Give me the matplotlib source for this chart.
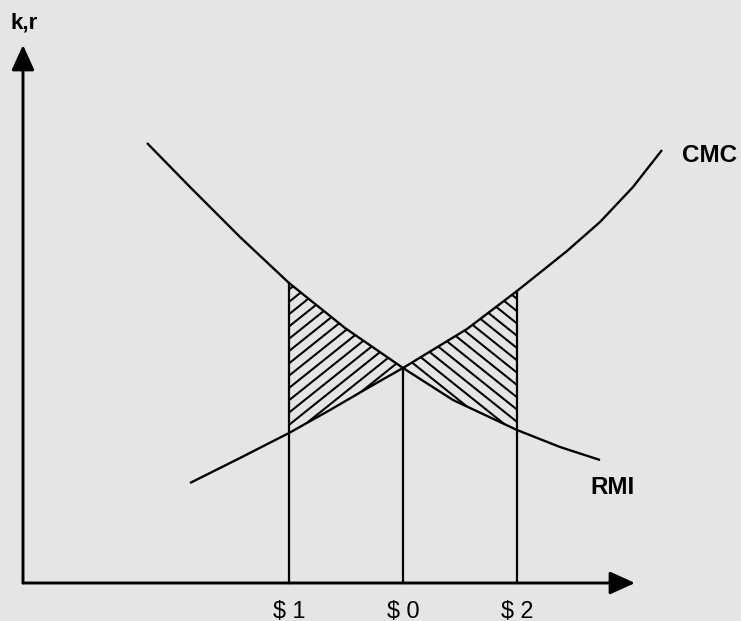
import numpy as np
import matplotlib
matplotlib.use("Agg")
import matplotlib.pyplot as plt
from matplotlib.collections import LineCollection

plt.rcParams['font.family'] = ['Liberation Sans', 'DejaVu Sans']

# --- data (investment on x, k,r on y; arbitrary units) ---
rmi_x = [12.4, 16.7, 21.7, 26.6, 32.2, 38.0, 43.0, 49.4, 53.7, 57.7]
rmi_y = [44.0, 39.6, 34.6, 30.0, 25.5, 21.5, 18.3, 15.3, 13.6, 12.3]

cmc_x = [16.7, 21.7, 26.6, 30.7, 35.0, 38.0, 44.4, 49.4, 54.4, 57.7, 61.0, 63.9]
cmc_y = [10.0, 12.5, 15.0, 17.3, 19.8, 21.5, 25.4, 29.2, 33.2, 36.1, 39.6, 43.3]

s_labels = ['$ 1', '$ 0', '$ 2']
s_x = [26.6, 38.0, 49.4]

curve_labels = ['CMC', 'RMI']
y_label = 'k,r'
x_axis_end = 61.2
y_axis_end = 53.8

rmi_x = np.array(rmi_x); rmi_y = np.array(rmi_y)
cmc_x = np.array(cmc_x); cmc_y = np.array(cmc_y)

bg = '#e5e5e5'
fig = plt.figure(figsize=(741 / 70, 621 / 70), dpi=70, facecolor=bg)
ax = fig.add_axes([0, 0, 1, 1])
ax.set_facecolor(bg)
ax.set_xlim(-2.3, 71.8)
ax.set_ylim(-3.8, 58.3)
ax.axis('off')

# hatch style (texture only, not data)
HATCH_STEP = 1.23   # vertical spacing of strokes
HATCH_SLOPE = 0.8   # ~39 degrees
HATCH_LW = 2.1


def hatch_region(px, py, direction):
    patch = ax.fill(px, py, facecolor='none', edgecolor='none', linewidth=0)[0]
    xa, xb = px.min() - 2, px.max() + 2
    ya, yb = py.min() - 2, py.max() + 2
    m = HATCH_SLOPE * direction
    cs = [ya - m * xa, ya - m * xb, yb - m * xa, yb - m * xb]
    offsets = np.arange(min(cs), max(cs) + HATCH_STEP, HATCH_STEP)
    segs = [[(xa, m * xa + c), (xb, m * xb + c)] for c in offsets]
    lc = LineCollection(segs, colors='black', linewidths=HATCH_LW)
    ax.add_collection(lc)
    lc.set_clip_path(patch)


# hatched regions
x1, x0, x2 = s_x
mL_r = (rmi_x >= x1) & (rmi_x <= x0)
mL_c = (cmc_x >= x1) & (cmc_x <= x0)
hatch_region(np.concatenate([rmi_x[mL_r], cmc_x[mL_c][::-1]]),
             np.concatenate([rmi_y[mL_r], cmc_y[mL_c][::-1]]), +1)

mR_r = (rmi_x >= x0) & (rmi_x <= x2)
mR_c = (cmc_x >= x0) & (cmc_x <= x2)
hatch_region(np.concatenate([cmc_x[mR_c], rmi_x[mR_r][::-1]]),
             np.concatenate([cmc_y[mR_c], rmi_y[mR_r][::-1]]), -1)

# curves
ax.plot(rmi_x, rmi_y, color='black', lw=2.4, solid_capstyle='butt', solid_joinstyle='round')
ax.plot(cmc_x, cmc_y, color='black', lw=2.4, solid_capstyle='butt', solid_joinstyle='round')

# drop lines
for xv in s_x:
    top = max(np.interp(xv, rmi_x, rmi_y), np.interp(xv, cmc_x, cmc_y))
    ax.plot([xv, xv], [0, top], color='black', lw=2.3)

# axes with arrows
arrow = dict(arrowstyle='-|>,head_length=0.55,head_width=0.25', mutation_scale=40,
             lw=3.0, color='black', shrinkA=0, shrinkB=0)
ax.annotate('', xy=(x_axis_end, 0), xytext=(0, 0), arrowprops=arrow)
ax.annotate('', xy=(0, y_axis_end), xytext=(0, 0), arrowprops=arrow)

# labels
ax.text(-1.3, 56.0, y_label, fontsize=23, fontweight='bold', ha='left', va='center')
ax.text(65.9, 42.7, curve_labels[0], fontsize=25, fontweight='bold', ha='left', va='center')
ax.text(56.7, 9.6, curve_labels[1], fontsize=25, fontweight='bold', ha='left', va='center')
for lab, xv in zip(s_labels, s_x):
    ax.text(xv, -2.8, lab, fontsize=24, ha='center', va='center')

fig.savefig('out.png', dpi=70, facecolor=fig.get_facecolor())
